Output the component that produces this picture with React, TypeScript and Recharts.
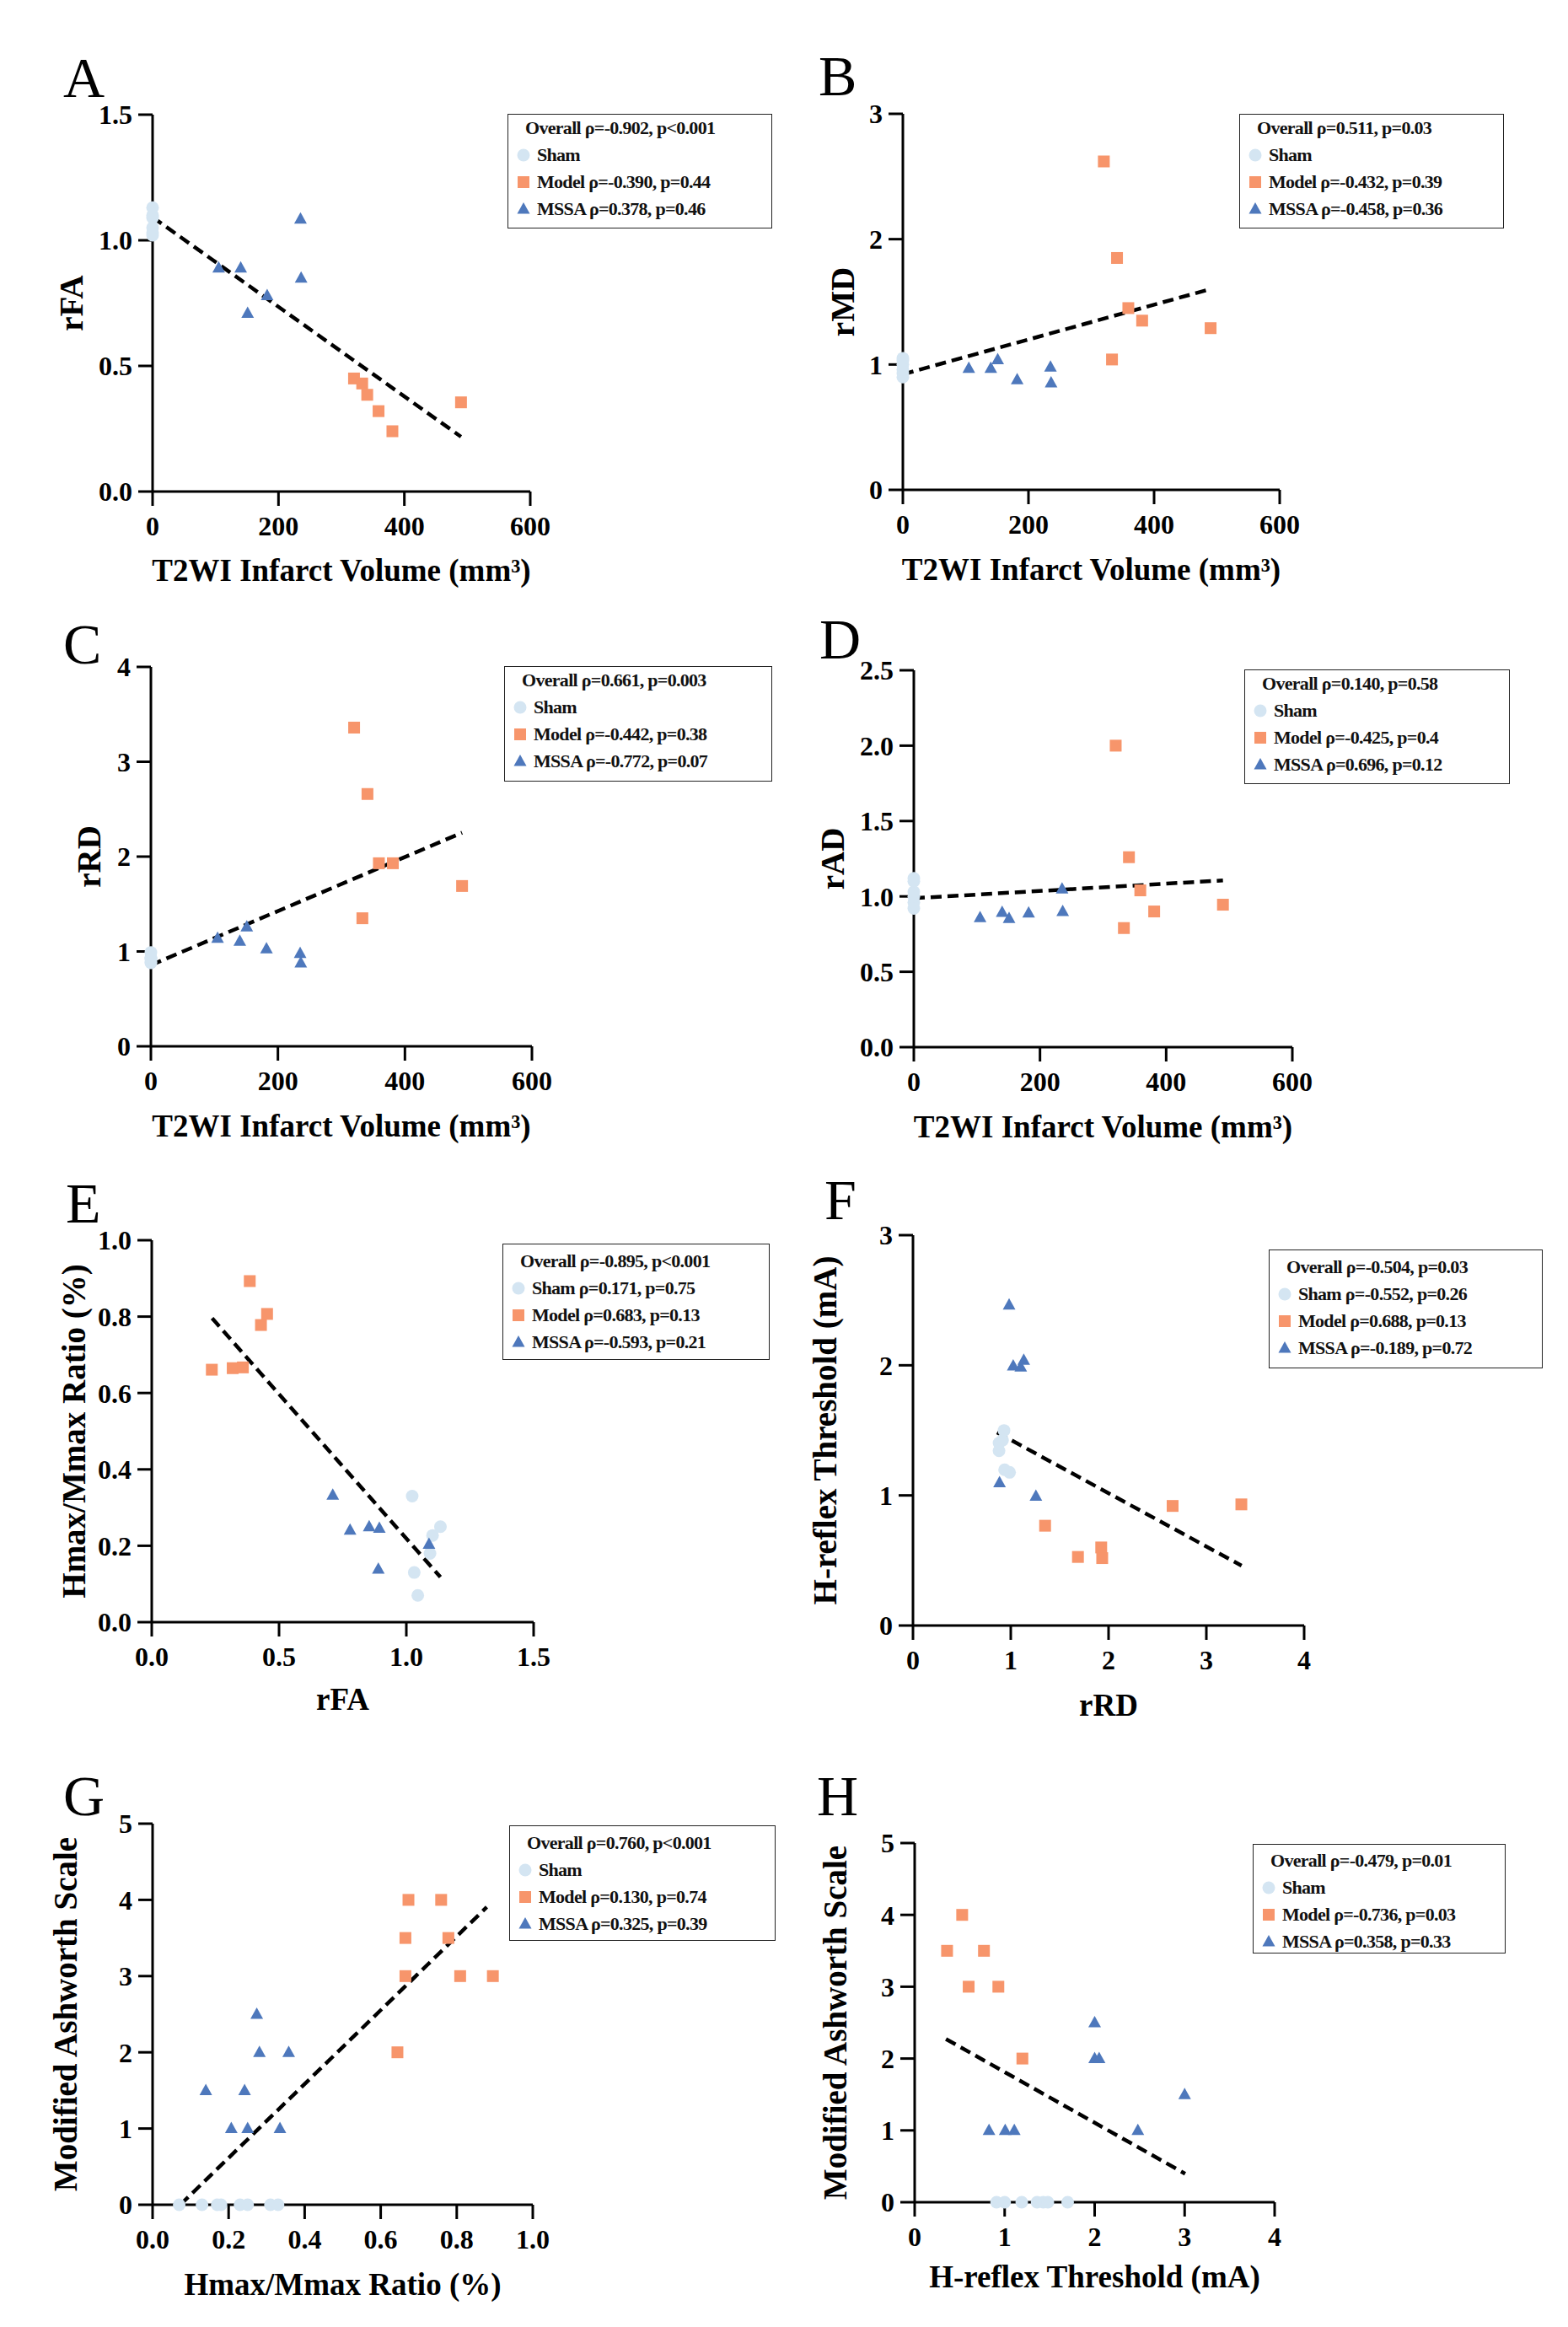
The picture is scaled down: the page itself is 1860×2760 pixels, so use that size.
import React from "react";
import { ScatterChart, Scatter, XAxis, YAxis, ReferenceLine, Legend } from "recharts";

const FONT = "'Liberation Serif', 'Times New Roman', serif";
const SHAM = "#D4E5F2";
const MODEL = "#F7956B";
const MSSA = "#4E78BC";

// T2WI infarct volume (mm³), shared by panels A-D
const shamVolume = [0, 0, 0, 0, 0, 0];
const modelVolume = [320, 333, 341, 359, 381, 490];
const mssaVolume = [105, 140, 151, 182, 235, 236];

// A: rFA
const shamFA = [1.02, 1.03, 1.05, 1.09, 1.1, 1.13];
const modelFA = [0.45, 0.43, 0.385, 0.32, 0.24, 0.355];
const mssaFA = [0.89, 0.89, 0.71, 0.78, 1.085, 0.85];

// B: rMD
const shamMD = [0.9, 0.93, 0.96, 1.0, 1.03, 1.05];
const modelMD = [2.62, 1.04, 1.85, 1.45, 1.35, 1.29];
const mssaMD = [0.97, 0.97, 1.04, 0.88, 0.98, 0.855];

// C: rRD
const shamRD = [0.88, 0.89, 0.92, 0.93, 0.94, 0.99];
const modelRD = [3.36, 1.35, 2.66, 1.93, 1.93, 1.69];
const mssaRD = [1.14, 1.11, 1.26, 1.03, 0.98, 0.88];

// D: rAD
const shamAD = [0.92, 0.96, 1.0, 1.03, 1.1, 1.12];
const modelAD = [2.0, 0.79, 1.26, 1.04, 0.9, 0.945];
const mssaAD = [0.86, 0.895, 0.855, 0.89, 1.05, 0.9];

// E: rFA vs Hmax/Mmax
const eShamX = [1.023, 1.031, 1.045, 1.093, 1.103, 1.134];
const eShamY = [0.33, 0.13, 0.07, 0.18, 0.227, 0.25];
const eModelX = [0.236, 0.318, 0.358, 0.385, 0.429, 0.453];
const eModelY = [0.661, 0.665, 0.667, 0.893, 0.778, 0.807];
const eMssaX = [0.711, 0.779, 0.854, 0.894, 0.89, 1.089];
const eMssaY = [0.333, 0.241, 0.25, 0.246, 0.139, 0.204];

// F: rRD vs H-reflex threshold
const fShamX = [0.931, 0.88, 0.88, 0.916, 0.937, 0.988];
const fShamY = [1.499, 1.402, 1.343, 1.425, 1.197, 1.177];
const fModelX = [1.351, 1.687, 1.925, 1.935, 2.655, 3.358];
const fModelY = [0.767, 0.527, 0.6, 0.518, 0.919, 0.931];
const fMssaX = [0.983, 1.025, 1.102, 1.133, 0.885, 1.257];
const fMssaY = [2.464, 1.996, 1.987, 2.04, 1.098, 0.995];

// G: Hmax/Mmax vs Modified Ashworth Scale
const gShamX = [0.07, 0.13, 0.17, 0.18, 0.23, 0.25, 0.31, 0.33];
const gShamY = [0, 0, 0, 0, 0, 0, 0, 0];
const gModelX = [0.673, 0.759, 0.665, 0.778, 0.665, 0.809, 0.895, 0.644];
const gModelY = [4, 4, 3.5, 3.5, 3, 3, 3, 2];
const gMssaX = [0.14, 0.207, 0.242, 0.25, 0.274, 0.281, 0.335, 0.358];
const gMssaY = [1.5, 1, 1.5, 1, 2.5, 2, 1, 2];

// H: H-reflex threshold vs Modified Ashworth Scale
const hShamX = [0.91, 1.0, 1.19, 1.36, 1.43, 1.48, 1.7];
const hShamY = [0, 0, 0, 0, 0, 0, 0];
const hModelX = [0.528, 0.36, 0.77, 0.6, 0.93, 1.197];
const hModelY = [4, 3.5, 3.5, 3, 3, 2];
const hMssaX = [2.0, 2.0, 2.05, 3.0, 2.48, 0.826, 1.006, 1.107];
const hMssaY = [2.5, 2, 2, 1.5, 1, 1, 1, 1];

// regression line end points [x0, x1], [y0, y1]
const fitA = { x: [0, 490], y: [1.092, 0.218] };
const fitB = { x: [0, 490], y: [0.922, 1.602] };
const fitC = { x: [0, 490], y: [0.856, 2.252] };
const fitD = { x: [0, 490], y: [0.988, 1.106] };
const fitE = { x: [0.237, 1.134], y: [0.796, 0.118] };
const fitF = { x: [0.86, 3.36], y: [1.484, 0.46] };
const fitG = { x: [0.073, 0.879], y: [0, 3.905] };
const fitH = { x: [0.348, 3.006], y: [2.272, 0.397] };

const volumeTicks = [0, 200, 400, 600];

const zip = (xs: number[], ys: number[]) => xs.map((x, i) => ({ x, y: ys[i] }));

type Shape = "circle" | "square" | "triangle";

const Marker = ({ cx, cy, shape, fill }: { cx: number; cy: number; shape: Shape; fill: string }) => {
  if (shape === "circle") return <circle cx={cx} cy={cy} r={7.5} fill={fill} />;
  if (shape === "square") return <rect x={cx - 7} y={cy - 7} width={14} height={14} fill={fill} />;
  return (
    <polygon
      points={`${cx},${cy - 8} ${cx - 7.5},${cy + 5.5} ${cx + 7.5},${cy + 5.5}`}
      fill={fill}
    />
  );
};

interface Series {
  name: string;
  shape: Shape;
  color: string;
  data: { x: number; y: number }[];
}

interface PanelSpec {
  letter: string;
  letterPos: [number, number];
  plot: [number, number, number, number];
  legend: [number, number, number, number];
  firstRow: number;
  overall: string;
  series: Series[];
  fit: { x: number[]; y: number[] };
  xDomain: [number, number];
  xTicks: number[];
  xDec: number;
  yDomain: [number, number];
  yTicks: number[];
  yDec: number;
  xTitle: string;
  yTitle: string;
  yTitleDx: number;
  xTitleDy: number;
}

const groups = (sham: string, model: string, mssa: string, d: { x: number; y: number }[][]): Series[] => [
  { name: sham, shape: "circle", color: SHAM, data: d[0] },
  { name: model, shape: "square", color: MODEL, data: d[1] },
  { name: mssa, shape: "triangle", color: MSSA, data: d[2] },
];

const volTitle = "T2WI Infarct Volume (mm³)";

const panels: PanelSpec[] = [
  {
    letter: "A", letterPos: [75, 115], plot: [181, 136, 629, 583], legend: [602, 135, 314, 136], firstRow: 16,
    overall: "Overall ρ=-0.902, p<0.001",
    series: groups("Sham", "Model ρ=-0.390, p=0.44", "MSSA ρ=0.378, p=0.46", [
      zip(shamVolume, shamFA), zip(modelVolume, modelFA), zip(mssaVolume, mssaFA),
    ]),
    fit: fitA, xDomain: [0, 600], xTicks: volumeTicks, xDec: 0,
    yDomain: [0, 1.5], yTicks: [0, 0.5, 1.0, 1.5], yDec: 1,
    xTitle: volTitle, yTitle: "rFA", yTitleDx: 97, xTitleDy: 106,
  },
  {
    letter: "B", letterPos: [971, 113], plot: [1071, 135, 1518, 581], legend: [1470, 135, 314, 136], firstRow: 16,
    overall: "Overall ρ=0.511, p=0.03",
    series: groups("Sham", "Model ρ=-0.432, p=0.39", "MSSA ρ=-0.458, p=0.36", [
      zip(shamVolume, shamMD), zip(modelVolume, modelMD), zip(mssaVolume, mssaMD),
    ]),
    fit: fitB, xDomain: [0, 600], xTicks: volumeTicks, xDec: 0,
    yDomain: [0, 3], yTicks: [0, 1, 2, 3], yDec: 0,
    xTitle: volTitle, yTitle: "rMD", yTitleDx: 72, xTitleDy: 107,
  },
  {
    letter: "C", letterPos: [75, 787], plot: [179, 791, 631, 1241], legend: [598, 790, 318, 137], firstRow: 16,
    overall: "Overall ρ=0.661, p=0.003",
    series: groups("Sham", "Model ρ=-0.442, p=0.38", "MSSA ρ=-0.772, p=0.07", [
      zip(shamVolume, shamRD), zip(modelVolume, modelRD), zip(mssaVolume, mssaRD),
    ]),
    fit: fitC, xDomain: [0, 600], xTicks: volumeTicks, xDec: 0,
    yDomain: [0, 4], yTicks: [0, 1, 2, 3, 4], yDec: 0,
    xTitle: volTitle, yTitle: "rRD", yTitleDx: 74, xTitleDy: 107,
  },
  {
    letter: "D", letterPos: [972, 781], plot: [1084, 795, 1533, 1242], legend: [1476, 794, 315, 136], firstRow: 16,
    overall: "Overall ρ=0.140, p=0.58",
    series: groups("Sham", "Model ρ=-0.425, p=0.4", "MSSA ρ=0.696, p=0.12", [
      zip(shamVolume, shamAD), zip(modelVolume, modelAD), zip(mssaVolume, mssaAD),
    ]),
    fit: fitD, xDomain: [0, 600], xTicks: volumeTicks, xDec: 0,
    yDomain: [0, 2.5], yTicks: [0, 0.5, 1.0, 1.5, 2.0, 2.5], yDec: 1,
    xTitle: volTitle, yTitle: "rAD", yTitleDx: 97, xTitleDy: 107,
  },
  {
    letter: "E", letterPos: [78, 1450], plot: [180, 1471, 633, 1924], legend: [596, 1475, 317, 138], firstRow: 20,
    overall: "Overall ρ=-0.895, p<0.001",
    series: groups("Sham ρ=0.171, p=0.75", "Model ρ=0.683, p=0.13", "MSSA ρ=-0.593, p=0.21", [
      zip(eShamX, eShamY), zip(eModelX, eModelY), zip(eMssaX, eMssaY),
    ]),
    fit: fitE, xDomain: [0, 1.5], xTicks: [0, 0.5, 1.0, 1.5], xDec: 1,
    yDomain: [0, 1], yTicks: [0, 0.2, 0.4, 0.6, 0.8, 1.0], yDec: 1,
    xTitle: "rFA", yTitle: "Hmax/Mmax Ratio (%)", yTitleDx: 93, xTitleDy: 104,
  },
  {
    letter: "F", letterPos: [978, 1446], plot: [1083, 1465, 1547, 1928], legend: [1505, 1482, 325, 141], firstRow: 20,
    overall: "Overall ρ=-0.504, p=0.03",
    series: groups("Sham ρ=-0.552, p=0.26", "Model ρ=0.688, p=0.13", "MSSA ρ=-0.189, p=0.72", [
      zip(fShamX, fShamY), zip(fModelX, fModelY), zip(fMssaX, fMssaY),
    ]),
    fit: fitF, xDomain: [0, 4], xTicks: [0, 1, 2, 3, 4], xDec: 0,
    yDomain: [0, 3], yTicks: [0, 1, 2, 3], yDec: 0,
    xTitle: "rRD", yTitle: "H-reflex Threshold (mA)", yTitleDx: 105, xTitleDy: 107,
  },
  {
    letter: "G", letterPos: [75, 2153], plot: [181, 2163, 632, 2615], legend: [604, 2165, 316, 137], firstRow: 20,
    overall: "Overall ρ=0.760, p<0.001",
    series: groups("Sham", "Model ρ=0.130, p=0.74", "MSSA ρ=0.325, p=0.39", [
      zip(gShamX, gShamY), zip(gModelX, gModelY), zip(gMssaX, gMssaY),
    ]),
    fit: fitG, xDomain: [0, 1], xTicks: [0, 0.2, 0.4, 0.6, 0.8, 1.0], xDec: 1,
    yDomain: [0, 5], yTicks: [0, 1, 2, 3, 4, 5], yDec: 0,
    xTitle: "Hmax/Mmax Ratio (%)", yTitle: "Modified Ashworth Scale", yTitleDx: 104, xTitleDy: 107,
  },
  {
    letter: "H", letterPos: [969, 2153], plot: [1085, 2186, 1512, 2612], legend: [1486, 2187, 300, 130], firstRow: 19,
    overall: "Overall ρ=-0.479, p=0.01",
    series: groups("Sham", "Model ρ=-0.736, p=0.03", "MSSA ρ=0.358, p=0.33", [
      zip(hShamX, hShamY), zip(hModelX, hModelY), zip(hMssaX, hMssaY),
    ]),
    fit: fitH, xDomain: [0, 4], xTicks: [0, 1, 2, 3, 4], xDec: 0,
    yDomain: [0, 5], yTicks: [0, 1, 2, 3, 4, 5], yDec: 0,
    xTitle: "H-reflex Threshold (mA)", yTitle: "Modified Ashworth Scale", yTitleDx: 95, xTitleDy: 101,
  },
];

const PAD_L = 150;
const PAD_T = 20;
const PAD_B = 130;
const AXIS_W = 60;
const AXIS_H = 60;
const ROW = 32;

const XTitle = ({ viewBox, text, dy }: any) => {
  const x = viewBox.x + viewBox.width / 2;
  return (
    <text x={x} y={viewBox.y + dy} textAnchor="middle" style={{ fontFamily: FONT, fontWeight: 700, fontSize: 37, fill: "#000" }}>
      {text}
    </text>
  );
};

const YTitle = ({ viewBox, text, dx }: any) => {
  const x = viewBox.x + viewBox.width - dx;
  const y = viewBox.y + viewBox.height / 2;
  return (
    <text
      x={x}
      y={y}
      transform={`rotate(-90 ${x} ${y})`}
      textAnchor="middle"
      dominantBaseline="central"
      style={{ fontFamily: FONT, fontWeight: 700, fontSize: 39, fill: "#000" }}
    >
      {text}
    </text>
  );
};

const LegendBox = ({ p }: { p: PanelSpec }) => {
  const [, , w, h] = p.legend;
  return (
    <div
      style={{
        position: "relative",
        width: w,
        height: h,
        boxSizing: "border-box",
        border: "1.5px solid #222",
        fontFamily: FONT,
        fontWeight: 700,
        fontSize: 22,
        letterSpacing: -0.7,
        color: "#111",
      }}
    >
      <div style={{ position: "absolute", left: 20, top: p.firstRow - ROW / 2, lineHeight: `${ROW}px`, whiteSpace: "nowrap" }}>
        {p.overall}
      </div>
      {p.series.map((s, i) => (
        <div
          key={s.name}
          style={{
            position: "absolute",
            left: 0,
            top: p.firstRow + ROW * (i + 1) - ROW / 2,
            height: ROW,
            display: "flex",
            alignItems: "center",
            whiteSpace: "nowrap",
          }}
        >
          <svg width={34} height={ROW}>
            <Marker cx={18} cy={ROW / 2} shape={s.shape} fill={s.color} />
          </svg>
          <span>{s.name}</span>
        </div>
      ))}
    </div>
  );
};

const Panel = ({ p }: { p: PanelSpec }) => {
  const [x0, y0, x1, y1] = p.plot;
  const left = x0 - PAD_L;
  const top = y0 - PAD_T;
  const right = Math.max(x1, p.legend[0] + p.legend[2]) + 12;
  const width = right - left;
  const height = y1 - y0 + PAD_T + PAD_B;
  const tickStyle = { fill: "#000", fontSize: 32, fontWeight: 700, fontFamily: FONT };
  const axisStroke = { stroke: "#000", strokeWidth: 3 };
  return (
    <div style={{ position: "absolute", left, top }}>
      <ScatterChart
        width={width}
        height={height}
        margin={{ top: PAD_T, left: PAD_L - AXIS_W, right: right - x1, bottom: PAD_B - AXIS_H }}
      >
        <XAxis
          type="number"
          dataKey="x"
          domain={p.xDomain}
          ticks={p.xTicks}
          interval={0}
          height={AXIS_H}
          tickSize={17}
          tickMargin={12}
          tick={tickStyle}
          axisLine={axisStroke}
          tickLine={axisStroke}
          tickFormatter={(v: number) => v.toFixed(p.xDec)}
          label={<XTitle text={p.xTitle} dy={p.xTitleDy} />}
        />
        <YAxis
          type="number"
          dataKey="y"
          domain={p.yDomain}
          ticks={p.yTicks}
          interval={0}
          width={AXIS_W}
          tickSize={17}
          tickMargin={7}
          tick={tickStyle}
          axisLine={axisStroke}
          tickLine={axisStroke}
          tickFormatter={(v: number) => v.toFixed(p.yDec)}
          label={<YTitle text={p.yTitle} dx={p.yTitleDx} />}
        />
        {p.series.map((s) => (
          <Scatter
            key={s.name}
            name={s.name}
            data={s.data}
            fill={s.color}
            isAnimationActive={false}
            shape={(props: any) => <Marker cx={props.cx} cy={props.cy} shape={s.shape} fill={s.color} />}
          />
        ))}
        <ReferenceLine
          segment={[
            { x: p.fit.x[0], y: p.fit.y[0] },
            { x: p.fit.x[1], y: p.fit.y[1] },
          ]}
          stroke="#000"
          strokeWidth={4.5}
          strokeDasharray="13 7"
          ifOverflow="visible"
        />
        <Legend
          layout="vertical"
          align="center"
          verticalAlign="middle"
          wrapperStyle={{ left: p.legend[0] - left, top: p.legend[1] - top, width: p.legend[2], height: p.legend[3] }}
          content={() => <LegendBox p={p} />}
        />
      </ScatterChart>
    </div>
  );
};

export default function App() {
  return (
    <div style={{ position: "absolute", left: 0, top: 0, width: 1860, height: 2760, background: "#fff" }}>
      {panels.map((p) => (
        <Panel key={p.letter} p={p} />
      ))}
      <svg width={1860} height={2760} style={{ position: "absolute", left: 0, top: 0, pointerEvents: "none" }}>
        {panels.map((p) => (
          <text key={p.letter} x={p.letterPos[0]} y={p.letterPos[1]} style={{ fontFamily: FONT, fontSize: 68, fill: "#000" }}>
            {p.letter}
          </text>
        ))}
      </svg>
    </div>
  );
}
